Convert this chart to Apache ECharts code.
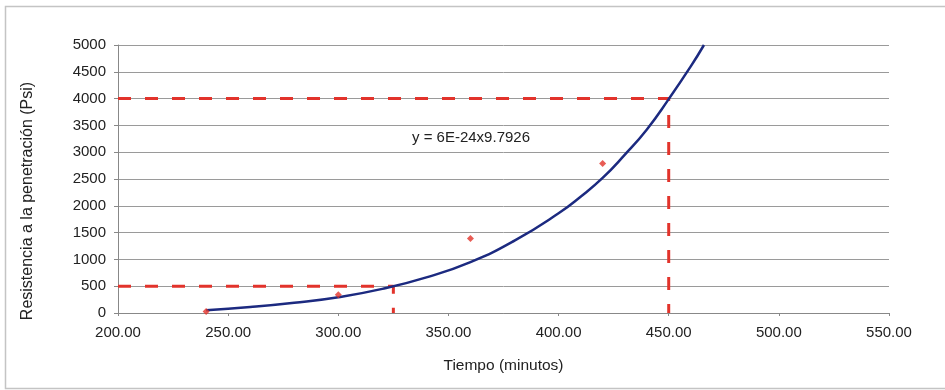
<!DOCTYPE html>
<html>
<head>
<meta charset="utf-8">
<script src="https://cdn.jsdelivr.net/npm/echarts@6/dist/echarts.min.js"></script>
<style>
html,body{margin:0;padding:0;background:#fff;}
#c{width:945px;height:390px;}
</style>
</head>
<body>
<div id="c"></div>
<script>
// Measured points (time in minutes, resistance in Psi)
const measTime = [240, 300, 360, 420];
const measPsi = [30, 340, 1390, 2790];

// Trend curve
const curveTime = [240, 260, 280, 300, 320, 340, 360, 380, 400, 410, 420, 430, 440, 450, 460, 466];
const curvePsi  = [50, 110, 190, 295, 450, 665, 950, 1350, 1860, 2170, 2520, 2950, 3420, 3990, 4600, 5000];

// Guide lines (red dashed)
const guideHighTime = [200, 450, 450];
const guideHighPsi  = [4000, 4000, 0];
const guideLowTime  = [200, 325, 325];
const guideLowPsi   = [500, 500, 0];

const xTitle = 'Tiempo (minutos)';
const yTitle = 'Resistencia a la penetración (Psi)';
const eqText = 'y = 6E-24x9.7926';

const zip = (a, b) => a.map((v, i) => [v, b[i]]);

const chart = echarts.init(document.getElementById('c'), null, {renderer: 'canvas'});
const font = 'Liberation Sans, Arial, sans-serif';
chart.setOption({
  animation: false,
  backgroundColor: '#fff',
  grid: {left: 118, right: 56, top: 45, bottom: 77},
  xAxis: {
    type: 'value', min: 200, max: 550, interval: 50,
    name: xTitle, nameLocation: 'middle', nameGap: 45,
    nameTextStyle: {fontFamily: font, fontSize: 15.5, color: '#222'},
    axisLine: {show: true, onZero: false, lineStyle: {color: '#888', width: 1}},
    axisTick: {show: true, length: 3, lineStyle: {color: '#888'}},
    axisLabel: {fontFamily: font, fontSize: 15, color: '#222', margin: 12,
      formatter: v => v.toFixed(2)},
    splitLine: {show: false}
  },
  yAxis: {
    type: 'value', min: 0, max: 5000, interval: 500,
    axisLine: {show: true, lineStyle: {color: '#888', width: 1}},
    axisTick: {show: true, length: 4, lineStyle: {color: '#888'}},
    axisLabel: {fontFamily: font, fontSize: 15, color: '#222', margin: 12,
      formatter: v => String(v)},
    splitLine: {show: true, lineStyle: {color: '#9a9a9a', width: 1}}
  },
  graphic: [
    {type: 'rect', shape: {x: 5.5, y: 6.5, width: 1000, height: 382},
     style: {fill: 'none', stroke: '#c4c4c4', lineWidth: 1.5}, silent: true, z: -1},
    {type: 'text', x: 28, y: 201, rotation: Math.PI / 2,
     style: {text: yTitle, font: '16px ' + font, fill: '#222', align: 'center', verticalAlign: 'middle'}},
    {type: 'text', x: 471, y: 138,
     style: {text: eqText, font: '15px ' + font, fill: '#222', align: 'center', verticalAlign: 'middle'}}
  ],
  series: [
    {type: 'line', data: zip(guideHighTime, guideHighPsi), symbol: 'none', z: 3,
     lineStyle: {color: '#e2332b', width: 3, type: [13, 14]}},
    {type: 'line', data: zip(guideLowTime, guideLowPsi), symbol: 'none', z: 3,
     lineStyle: {color: '#e2332b', width: 3, type: [13, 14]}},
    {type: 'line', data: zip(curveTime, curvePsi), symbol: 'none', smooth: true, z: 4,
     lineStyle: {color: '#1c2a80', width: 2.5}},
    {type: 'scatter', data: zip(measTime, measPsi), symbol: 'diamond', symbolSize: 7, z: 5,
     itemStyle: {color: '#e2332b'}}
  ]
});
</script>
</body>
</html>
